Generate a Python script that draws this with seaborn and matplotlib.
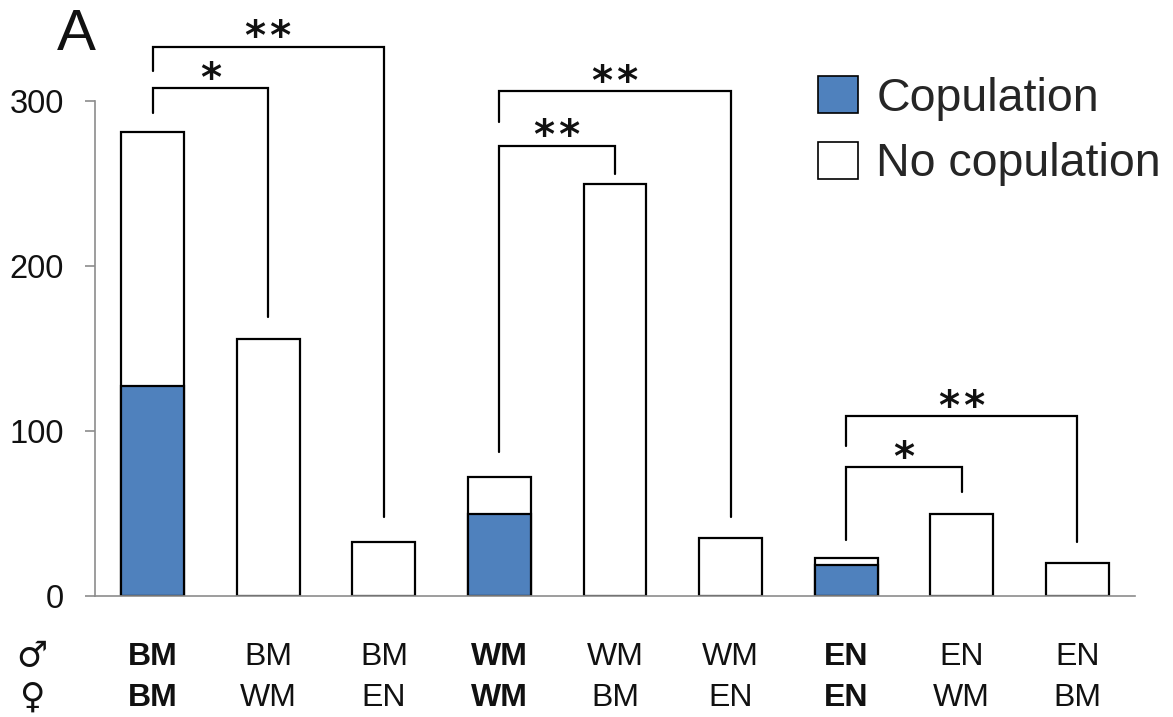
import matplotlib
matplotlib.use("Agg")
import matplotlib.pyplot as plt
from matplotlib.patches import Patch
import seaborn as sns
import pandas as pd

# Pairings: male / female morph for each trial group
males = ["BM", "BM", "BM", "WM", "WM", "WM", "EN", "EN", "EN"]
females = ["BM", "WM", "EN", "WM", "BM", "EN", "EN", "WM", "BM"]
bold_pair = [True, False, False, True, False, False, True, False, False]

# Trial counts per pairing
total_trials = [281, 156, 33, 72, 250, 35, 23, 50, 20]
copulations = [127, 0, 0, 50, 0, 0, 19, 0, 0]

# Significance brackets: (left bar, right bar, top, left leg end, right leg end, label)
bracket_left = [0, 0, 3, 3, 6, 6]
bracket_right = [1, 2, 4, 5, 7, 8]
bracket_top = [308, 333, 273, 306, 78, 109]
bracket_left_end = [293, 318, 87, 287, 34, 91]
bracket_right_end = [169, 48, 256, 48, 63, 33]
bracket_label = ["*", "**", "**", "**", "*", "**"]

pairs = [f"{m}\u00d7{f}" for m, f in zip(males, females)]
df = pd.DataFrame({"pair": pairs, "total": total_trials, "cop": copulations})

sns.set_theme(style="white")
plt.rcParams["font.family"] = ["Liberation Sans", "DejaVu Sans"]

W, H = 1173, 717
fig = plt.figure(figsize=(W / 100, H / 100), dpi=100)
ax = fig.add_axes([95 / W, 1 - 596 / H, (1135 - 95) / W, (596 - 101) / H])

blue = "#4F81BD"
bar_w = 0.545
sns.barplot(data=df, x="pair", y="total", order=pairs, color="white",
            saturation=1, width=bar_w, edgecolor="black", linewidth=1.6, ax=ax)
sns.barplot(data=df[df["cop"] > 0], x="pair", y="cop", order=pairs, color=blue,
            saturation=1, width=bar_w, edgecolor="black", linewidth=1.6, ax=ax)

ax.set_xlim(-0.5, 8.5)
ax.set_ylim(0, 300)
ax.set_yticks([0, 100, 200, 300])
ax.set_xticks([])
ax.set_xlabel("")
ax.set_ylabel("")
for s in ["top", "right"]:
    ax.spines[s].set_visible(False)
for s in ["left", "bottom"]:
    ax.spines[s].set_color("#8c8c8c")
    ax.spines[s].set_linewidth(1.2)
    ax.spines[s].set_zorder(5)
ax.tick_params(axis="y", direction="out", length=7.5, width=1.2, color="#8c8c8c",
               labelsize=23.5, pad=15, left=True, labelcolor="#111111")
ax.grid(False)

# Significance brackets
for l, r, top, le, re, lab in zip(bracket_left, bracket_right, bracket_top,
                                  bracket_left_end, bracket_right_end, bracket_label):
    ax.plot([l, l, r, r], [le, top, top, re], color="black", lw=1.6,
            clip_on=False, solid_joinstyle="miter", zorder=6)
    ax.annotate("\u200a".join(lab), xy=((l + r) / 2, top), xytext=(0, -2),
                textcoords="offset points", ha="center", va="baseline",
                fontsize=29, family=["DejaVu Sans"], fontweight="bold",
                color="#111111", annotation_clip=False)

# Pairing labels under the bars
trans = ax.get_xaxis_transform()
y_m = -(657 - 596) / (596 - 101)
y_f = -(698 - 596) / (596 - 101)
for i, (m, f, b) in enumerate(zip(males, females, bold_pair)):
    w = "bold" if b else "normal"
    ax.text(i, y_m, m, transform=trans, ha="center", va="center",
            fontsize=23, fontweight=w, color="#111111")
    ax.text(i, y_f, f, transform=trans, ha="center", va="center",
            fontsize=23, fontweight=w, color="#111111")
fig.text(32 / W, 1 - 656 / H, "\u2642", ha="center", va="center", fontsize=25,
         family=["DejaVu Sans"], fontweight="bold", color="#111111")
fig.text(32 / W, 1 - 698 / H, "\u2640", ha="center", va="center", fontsize=25,
         family=["DejaVu Sans"], fontweight="bold", color="#111111")

# Panel letter
fig.text(57 / W, 1 - 50 / H, "A", ha="left", va="baseline", fontsize=42,
         color="#111111")

handles = [Patch(facecolor=blue, edgecolor="black", linewidth=1.2),
           Patch(facecolor="white", edgecolor="black", linewidth=1.2)]
fig.legend(handles, ["Copulation", "No copulation"], loc="upper left",
           bbox_to_anchor=(818 / W, 1 - 76 / H), frameon=False, fontsize=33.5,
           handlelength=0.85, handleheight=0.85, handletextpad=0.4,
           labelspacing=0.45, borderpad=0, borderaxespad=0)

fig.savefig("out.png", dpi=100, facecolor="white")
